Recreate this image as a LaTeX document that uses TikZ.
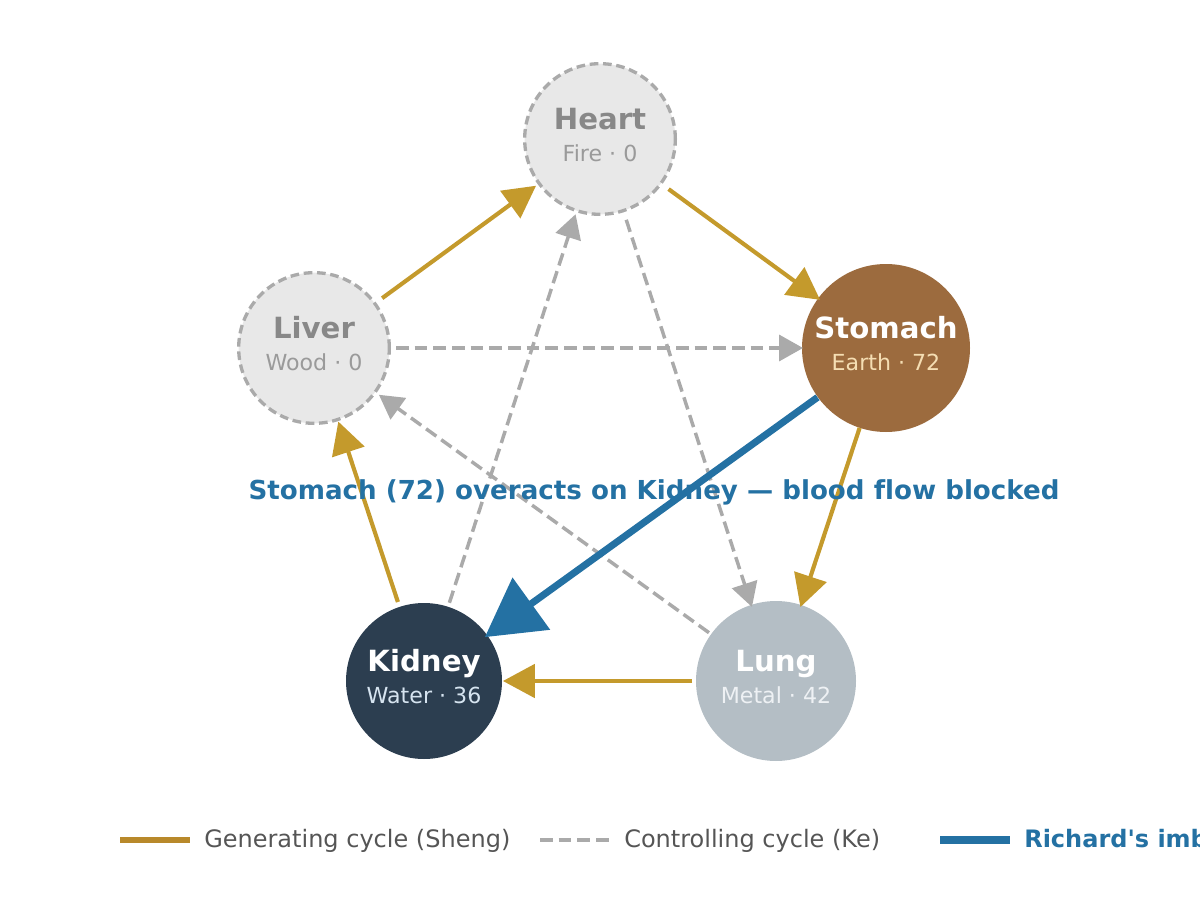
\documentclass[tikz,border=0pt]{standalone}
\usepackage{fontspec}
\setmainfont{DejaVu Sans}[Ligatures={TeXOff,NoCommon}]
\usetikzlibrary{arrows.meta,calc}
\definecolor{gold}{HTML}{C49A2C}
\definecolor{goldleg}{HTML}{B8892A}
\definecolor{kegray}{HTML}{AAAAAA}
\definecolor{imb}{HTML}{2471A3}
\definecolor{earth}{HTML}{9C6B3E}
\definecolor{water}{HTML}{2C3E50}
\definecolor{metal}{HTML}{B4BEC5}
\definecolor{emptyfill}{HTML}{E8E8E8}
\definecolor{emptytitle}{HTML}{888888}
\definecolor{emptysub}{HTML}{9A9A9A}
\definecolor{earthsub}{HTML}{F5DEB3}
\definecolor{watersub}{HTML}{D6E4F0}
\definecolor{metalsub}{HTML}{EEF1F4}
\definecolor{legtext}{HTML}{555555}
\tikzset{
  organ/.style={circle, inner sep=0pt, outer sep=0pt},
  emptyorgan/.style={organ, fill=emptyfill, draw=kegray, line width=2.5pt,
    dash pattern=on 6.5pt off 3.5pt, minimum size=113pt},
  ttl/.style={anchor=base, font=\fontsize{21.9}{24}\selectfont\bfseries},
  subl/.style={anchor=base, font=\fontsize{16.6}{19}\selectfont},
  sheng/.style={draw=gold, line width=3.1pt, -{Triangle[length=24pt,width=25pt]},
    shorten <=63pt, shorten >=59pt},
  kearrow/.style={draw=kegray, line width=2.6pt, dash pattern=on 9.5pt off 4.5pt,
    -{Triangle[length=18pt,width=19.5pt]}, shorten <=62pt, shorten >=60pt},
  imbarrow/.style={draw=imb, line width=5.25pt, -{Triangle[length=43pt,width=47pt]},
    shorten <=63.3pt, shorten >=56.25pt},
  legtxt/.style={anchor=base west, inner sep=0pt, text=legtext, font=\fontsize{18}{21}\selectfont},
}
\begin{document}
\begin{tikzpicture}[x=0.75pt,y=-0.75pt]
\useasboundingbox (0,0) rectangle (1200,920);
\clip (0,0) rectangle (1200,920);
% organs
\node[emptyorgan] (heart) at (600,139) {};
\node[emptyorgan] (liver) at (314,348) {};
\node[organ, fill=earth, minimum size=126pt] (stomach) at (886,348) {};
\node[organ, fill=water, minimum size=117pt] (kidney) at (424,681) {};
\node[organ, fill=metal, minimum size=120pt] (lung) at (776,681) {};
% labels
\node[ttl, text=emptytitle] (heartT) at ([yshift=7.1pt]heart.center) {Heart};
\node[subl, text=emptysub] (heartS) at ([yshift=-17pt]heart.center) {Fire · 0};
\node[ttl, text=emptytitle] (liverT) at ([yshift=7.1pt]liver.center) {Liver};
\node[subl, text=emptysub] (liverS) at ([yshift=-17pt]liver.center) {Wood · 0};
\node[ttl, text=white] (stomachT) at ([yshift=7.1pt]stomach.center) {Stomach};
\node[subl, text=earthsub] (stomachS) at ([yshift=-17pt]stomach.center) {Earth · 72};
\node[ttl, text=white] (kidneyT) at ([yshift=7.1pt]kidney.center) {Kidney};
\node[subl, text=watersub] (kidneyS) at ([yshift=-17pt]kidney.center) {Water · 36};
\node[ttl, text=white] (lungT) at ([yshift=7.1pt]lung.center) {Lung};
\node[subl, text=metalsub] (lungS) at ([yshift=-17pt]lung.center) {Metal · 42};
% generating cycle
\draw[sheng, shorten <=63.3pt, shorten >=59.4pt] (liver.center) -- (heart.center);
\draw[sheng, shorten <=63.7pt, shorten >=61.2pt] (heart.center) -- (stomach.center);
\draw[sheng, shorten <=63.1pt, shorten >=58.4pt] (stomach.center) -- (lung.center);
\draw[sheng, shorten <=63pt, shorten >=59.2pt] (lung.center) -- (kidney.center);
\draw[sheng, shorten <=62.4pt, shorten >=58.1pt] (kidney.center) -- (liver.center);
% controlling cycle
\draw[kearrow, shorten <=61.5pt, shorten >=62.2pt] (liver.center) -- (stomach.center);
\draw[kearrow, shorten <=63.7pt, shorten >=58.4pt] (heart.center) -- (lung.center);
\draw[kearrow, shorten <=62pt, shorten >=60pt] (lung.center) -- (liver.center);
\draw[kearrow, shorten <=61.7pt, shorten >=59.3pt] (kidney.center) -- (heart.center);
% imbalance
\draw[imbarrow] (stomach.center) -- (kidney.center);
\node[anchor=base, text=imb, font=\fontsize{19.6}{23}\selectfont\bfseries] (note) at (654,499)
  {Stomach (72) overacts on Kidney — blood flow blocked};
% legend
\coordinate (g1) at (120,840); \coordinate (g2) at (190,840);
\coordinate (k1) at (540,840); \coordinate (k2) at (610,840);
\coordinate (b1) at (940,840); \coordinate (b2) at (1010,840);
\draw[draw=goldleg, line width=3.8pt] (g1) -- (g2);
\draw[draw=kegray, line width=3pt, dash pattern=on 9.5pt off 4.5pt] (k1) -- (k2);
\draw[draw=imb, line width=6pt] (b1) -- (b2);
\node[legtxt] (lg1) at (204,847) {Generating cycle (Sheng)};
\node[legtxt] (lg2) at (624,847) {Controlling cycle (Ke)};
\node[legtxt, text=imb, font=\fontsize{18}{21}\selectfont\bfseries] (lg3) at (1024,847) {Richard's imbalance};
\end{tikzpicture}
\end{document}
